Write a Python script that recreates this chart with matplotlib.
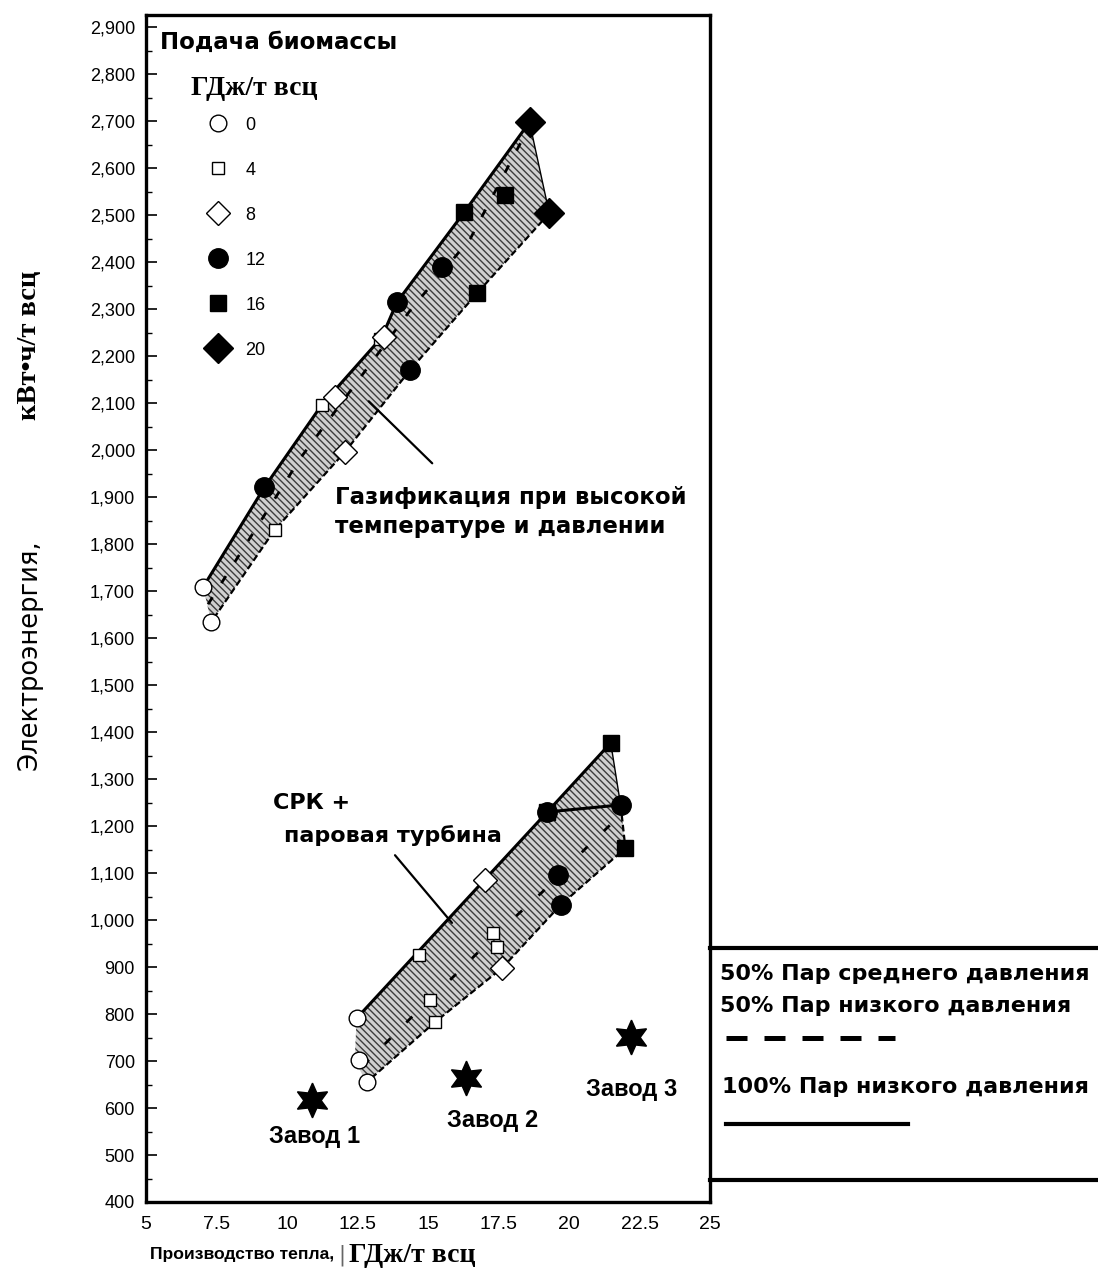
# Electricity vs heat production for biomass-fed CHP options (recreated chart)

import numpy as np
import matplotlib
matplotlib.use("Agg")
import matplotlib.pyplot as plt
from matplotlib.lines import Line2D
from matplotlib.ticker import FuncFormatter, MultipleLocator

# --- data ------------------------------------------------------------------

# gasification band (upper): solid upper edge, dashed lower edge, dashed middle
gas_top_x = [7.03, 9.2, 11.23, 13.36, 13.9, 16.28, 18.6]
gas_top_y = [1709, 1921, 2096, 2240, 2315, 2506, 2698]
gas_bot_x = [19.3, 16.74, 14.36, 12.05, 9.56, 7.31]
gas_bot_y = [2504, 2334, 2170, 1996, 1830, 1634]
gas_mid_x = [7.2, 10.5, 14.4, 16.5, 18.6]
gas_mid_y = [1672, 1985, 2300, 2450, 2690]

# boiler + steam turbine band (lower)
stm_top_x = [12.47, 19.23, 21.48]
stm_top_y = [791, 1230, 1377]
stm_bot_x = [21.83, 22.0, 19.7, 17.63, 15.25, 12.83, 12.4]
stm_bot_y = [1245, 1153, 1032, 898, 783, 655, 700]
stm_mid_x = [12.7, 14.43, 16.03, 17.46, 19.06, 20.6, 21.8]
stm_mid_y = [690, 794, 887, 972, 1060, 1153, 1222]
stm_link_x = [19.23, 21.83]
stm_link_y = [1230, 1245]

# points by biomass feed, GJ/t
feed_levels = ["0", "4", "8", "12", "16", "20"]
feed0_x = [7.03, 7.31, 12.47, 12.54, 12.83]
feed0_y = [1709, 1634, 791, 702, 655]
feed4_x = [9.56, 11.23, 9.2, 13.3, 14.68, 15.07, 15.25, 17.3, 17.45]
feed4_y = [1830, 2096, 1921, 2236, 925, 830, 783, 972, 943]
feed8_x = [12.05, 11.7, 13.45, 17.03, 17.63]
feed8_y = [1996, 2113, 2240, 1085, 898]
feed12_x = [9.2, 13.9, 14.36, 15.5, 19.23, 21.83, 19.6, 19.7]
feed12_y = [1921, 2315, 2170, 2389, 1230, 1245, 1096, 1032]
feed16_x = [16.28, 16.74, 17.74, 19.23, 21.48, 22.0]
feed16_y = [2506, 2334, 2543, 1230, 1377, 1153]
feed20_x = [18.6, 19.3]
feed20_y = [2698, 2504]

# existing mills
mill_x = [10.9, 16.35, 22.2]
mill_y = [617, 664, 751]
mill_names = ["Завод 1", "Завод 2", "Завод 3"]
mill_label_x = [10.98, 17.28, 22.22]
mill_label_y = [540, 574, 640]

SANS = ["DejaVu Sans"]
ARIAL = ["Liberation Sans", "DejaVu Sans"]
SERIF = ["Liberation Serif", "DejaVu Serif"]

fig = plt.figure(figsize=(10.98, 12.78), dpi=100)
ax = fig.add_axes([146 / 1098, 1 - 1202 / 1278, 564 / 1098, 1187 / 1278])

# hatched bands
hatch_kw = dict(facecolor="#d0d0d0", edgecolor="#3c3c3c", hatch="\\\\\\\\\\", linewidth=0, zorder=1)
ax.fill(gas_top_x + gas_bot_x, gas_top_y + gas_bot_y, **hatch_kw)
ax.fill(stm_top_x + stm_bot_x, stm_top_y + stm_bot_y, **hatch_kw)

# edges
ax.plot(gas_top_x, gas_top_y, color="black", lw=2.2, zorder=2)
ax.plot([gas_top_x[-1], gas_bot_x[0]], [gas_top_y[-1], gas_bot_y[0]], color="black", lw=1.0, zorder=2)
ax.plot(gas_bot_x, gas_bot_y, color="black", lw=1.6, ls=(0, (3, 1.5)), zorder=2)
ax.plot(gas_mid_x, gas_mid_y, color="black", lw=2.0, ls=(0, (3, 6)), zorder=2)

ax.plot(stm_top_x, stm_top_y, color="black", lw=2.2, zorder=2)
ax.plot([stm_top_x[-1], stm_bot_x[0]], [stm_top_y[-1], stm_bot_y[0]], color="black", lw=1.0, zorder=2)
ax.plot(stm_bot_x[:-1], stm_bot_y[:-1], color="black", lw=1.6, ls=(0, (3, 1.5)), zorder=2)
ax.plot(stm_mid_x, stm_mid_y, color="black", lw=2.0, ls=(0, (3, 8)), zorder=2)
ax.plot(stm_link_x, stm_link_y, color="black", lw=2.2, zorder=2)

# markers
styles = [
    dict(marker="o", ms=12, mfc="white", mec="black", mew=1.0),
    dict(marker="s", ms=9, mfc="white", mec="black", mew=1.0),
    dict(marker="D", ms=12, mfc="white", mec="black", mew=1.0),
    dict(marker="o", ms=14, mfc="black", mec="black", mew=1.0),
    dict(marker="s", ms=12, mfc="black", mec="black", mew=1.0),
    dict(marker="D", ms=15, mfc="black", mec="black", mew=1.0),
]
feed_x = [feed0_x, feed4_x, feed8_x, feed12_x, feed16_x, feed20_x]
feed_y = [feed0_y, feed4_y, feed8_y, feed12_y, feed16_y, feed20_y]
for xs, ys, st in zip(feed_x, feed_y, styles):
    ax.plot(xs, ys, ls="none", zorder=3, **st)

ax.plot(mill_x, mill_y, ls="none", marker=(6, 1, 0), ms=25, color="black", zorder=3)
for name, lx, ly in zip(mill_names, mill_label_x, mill_label_y):
    ax.text(lx, ly, name, ha="center", va="center", fontsize=17, fontweight="bold", family=ARIAL)

# annotations
ax.text(11.69, 1868, "Газификация при высокой\nтемпературе и давлении", ha="left", va="center",
        fontsize=16.5, fontweight="bold", family=SANS, linespacing=1.35)
ax.annotate("", xy=(12.9, 2104), xytext=(15.15, 1972),
            arrowprops=dict(arrowstyle="-", lw=1.6, color="black", shrinkA=0, shrinkB=0))
ax.text(9.52, 1249, "СРК +", ha="left", va="center", fontsize=16, fontweight="bold", family=SANS)
ax.text(9.91, 1179, "паровая турбина", ha="left", va="center", fontsize=16, fontweight="bold", family=SANS)
ax.annotate("", xy=(15.85, 994), xytext=(13.83, 1138),
            arrowprops=dict(arrowstyle="-", lw=1.6, color="black", shrinkA=0, shrinkB=0))

# legend of biomass feed
handles = [Line2D([], [], ls="none", **st) for st in styles]
leg = ax.legend(handles, feed_levels, loc="upper left", bbox_to_anchor=(0.08, 0.922),
                frameon=False, labelspacing=1.55, handletextpad=0.5, borderpad=0,
                prop=dict(family=ARIAL, size=13))
ax.text(0.025, 0.977, "Подача биомассы", transform=ax.transAxes, ha="left", va="center",
        fontsize=16.5, fontweight="bold", family=SANS)
ax.text(0.08, 0.938, "ГДж/т всц", transform=ax.transAxes, ha="left", va="center",
        fontsize=20, fontweight="bold", family=SERIF)

# axes styling
ax.set_xlim(5, 25)
ax.set_ylim(400, 2926)
ax.set_xticks(np.arange(5, 25.1, 2.5))
ax.set_xticklabels(["5", "7.5", "10", "12.5", "15", "17.5", "20", "22.5", "25"])
ax.set_yticks(np.arange(400, 2901, 100))
ax.yaxis.set_minor_locator(MultipleLocator(50))
ax.yaxis.set_major_formatter(FuncFormatter(lambda v, p: f"{v:,.0f}"))
ax.tick_params(axis="y", direction="in", length=8, width=1.2, labelsize=13, pad=8)
ax.tick_params(axis="y", which="minor", direction="in", length=4, width=1.0)
ax.tick_params(axis="x", direction="in", length=0, labelsize=14, pad=10)
for lab in ax.get_xticklabels() + ax.get_yticklabels():
    lab.set_family(ARIAL)
for sp in ax.spines.values():
    sp.set_linewidth(2.4)

# axis titles
fig.text(30 / 1098, 1 - 655 / 1278, "Электроэнергия,", rotation=90, ha="center", va="center",
         fontsize=18.5, family=SANS)
fig.text(30 / 1098, 1 - 345 / 1278, "кВт•ч/т всц", rotation=90, ha="center", va="center",
         fontsize=20.5, fontweight="bold", family=SERIF)
fig.text(150 / 1098, 1 - 1255 / 1278, "Производство тепла,", ha="left", va="center",
         fontsize=12.6, fontweight="bold", family=ARIAL)
fig.text(342 / 1098, 1 - 1255 / 1278, "|", ha="center", va="center", fontsize=15, color="#666666")
fig.text(349 / 1098, 1 - 1255 / 1278, "ГДж/т всц", ha="left", va="center",
         fontsize=20, fontweight="bold", family=SERIF)

# steam legend box at the right
box = fig.add_axes([710 / 1098, 1 - 1180 / 1278, 388 / 1098, 232 / 1278])
box.set_xlim(0, 1)
box.set_ylim(0, 1)
box.set_xticks([])
box.set_yticks([])
box.patch.set_alpha(0)
box.spines["right"].set_visible(False)
box.spines["left"].set_linewidth(1.0)
box.spines["top"].set_linewidth(3.0)
box.spines["bottom"].set_linewidth(3.0)
box.text(0.026, 0.888, "50% Пар среднего давления", ha="left", va="center", fontsize=16,
         fontweight="bold", family=SANS)
box.text(0.026, 0.75, "50% Пар низкого давления", ha="left", va="center", fontsize=16,
         fontweight="bold", family=SANS)
box.plot([0.04, 0.477], [0.612, 0.612], color="black", lw=3.6, ls=(0, (4.2, 3.4)))
box.text(0.03, 0.40, "100% Пар низкого давления", ha="left", va="center", fontsize=16,
         fontweight="bold", family=SANS)
box.plot([0.04, 0.51], [0.241, 0.241], color="black", lw=3.0)

plt.savefig("out.png", dpi=100)
